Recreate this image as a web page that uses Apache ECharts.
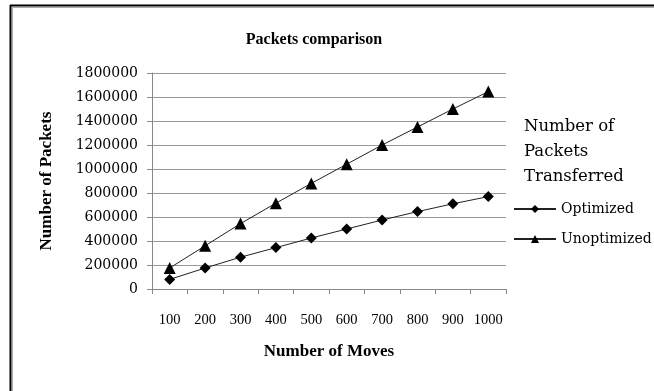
<!DOCTYPE html>
<html>
<head>
<meta charset="utf-8">
<script src="https://cdn.jsdelivr.net/npm/echarts@6/dist/echarts.min.js"></script>
<style>
  html, body { margin: 0; padding: 0; background: #fff; }
  #chart { width: 654px; height: 391px; }
</style>
</head>
<body>
<div id="chart"></div>
<script>
// Number of moves per run
const moves = ['100', '200', '300', '400', '500', '600', '700', '800', '900', '1000'];
// Packets transferred with the optimized protocol
const optimized = [80000, 175000, 265000, 345000, 425000, 500000, 575000, 645000, 710000, 770000];
// Packets transferred without optimization
const unoptimized = [175000, 360000, 545000, 715000, 880000, 1040000, 1200000, 1350000, 1500000, 1645000];

const serif = '"Liberation Serif", "DejaVu Serif", serif';
const wideSerif = '"DejaVu Serif", "Liberation Serif", serif';

const chart = echarts.init(document.getElementById('chart'), null, { renderer: 'canvas' });

chart.setOption({
  animation: false,
  backgroundColor: '#fff',
  title: {
    text: 'Packets comparison',
    left: 309,
    textAlign: 'center',
    top: 27,
    textStyle: { fontFamily: serif, fontSize: 16, fontWeight: 'bold', color: '#000' }
  },
  grid: { left: 152, right: 148, top: 73, bottom: 102 },
  xAxis: {
    type: 'category',
    data: moves,
    boundaryGap: true,
    name: 'Number of Moves',
    nameLocation: 'middle',
    nameGap: 54,
    nameTextStyle: { fontFamily: serif, fontSize: 17, fontWeight: 'bold', color: '#000' },
    axisLine: { lineStyle: { color: '#888', width: 1 } },
    axisTick: { show: true, inside: false, length: 5, lineStyle: { color: '#888' } },
    axisLabel: { fontFamily: serif, fontSize: 14.5, color: '#000', margin: 24, interval: 0 },
    splitLine: { show: false }
  },
  yAxis: {
    type: 'value',
    min: 0,
    max: 1800000,
    interval: 200000,
    name: 'Number of Packets',
    nameLocation: 'middle',
    nameGap: 97,
    nameRotate: 90,
    nameTextStyle: { fontFamily: serif, fontSize: 17, fontWeight: 'bold', color: '#000' },
    axisLine: { show: true, lineStyle: { color: '#888', width: 1 } },
    axisTick: { show: true, inside: false, length: 5, lineStyle: { color: '#888' } },
    axisLabel: {
      fontFamily: wideSerif, fontSize: 14, color: '#000', margin: 14,
      formatter: function (v) { return String(v); }
    },
    splitLine: { show: true, lineStyle: { color: '#999', width: 1 } }
  },
  legend: {
    orient: 'vertical',
    left: 508,
    top: 197,
    itemWidth: 42,
    itemHeight: 10,
    itemGap: 16,
    textStyle: { fontFamily: wideSerif, fontSize: 14, color: '#000' },
    data: ['Optimized', 'Unoptimized']
  },
  graphic: [
    {
      type: 'text',
      left: 524,
      top: 114,
      style: {
        text: 'Number of\nPackets\nTransferred',
        fontFamily: wideSerif,
        fontSize: 16.5,
        lineHeight: 25,
        fill: '#000'
      }
    },
    // frame edges along the top and left
    { type: 'line', shape: { x1: 10, y1: 5.5, x2: 654, y2: 5.5 }, style: { stroke: '#000', lineWidth: 2 } },
    { type: 'line', shape: { x1: 10.5, y1: 5, x2: 10.5, y2: 391 }, style: { stroke: '#000', lineWidth: 2 } },
    { type: 'line', shape: { x1: 12, y1: 7.5, x2: 654, y2: 7.5 }, style: { stroke: '#aaa', lineWidth: 1 } },
    { type: 'line', shape: { x1: 12.5, y1: 7, x2: 12.5, y2: 391 }, style: { stroke: '#aaa', lineWidth: 1 } }
  ],
  series: [
    {
      name: 'Optimized',
      type: 'line',
      data: optimized,
      symbol: 'diamond',
      symbolSize: 11,
      lineStyle: { color: '#222', width: 1 },
      itemStyle: { color: '#000' }
    },
    {
      name: 'Unoptimized',
      type: 'line',
      data: unoptimized,
      symbol: 'triangle',
      symbolSize: 12,
      lineStyle: { color: '#222', width: 1 },
      itemStyle: { color: '#000' }
    }
  ]
});
</script>
</body>
</html>
